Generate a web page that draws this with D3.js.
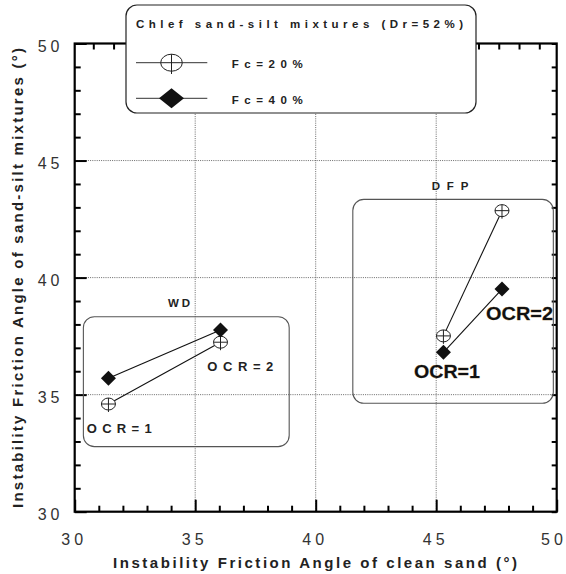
<!DOCTYPE html>
<html>
<head>
<meta charset="utf-8">
<script src="https://cdn.jsdelivr.net/npm/d3@7"></script>
<style>
  body { margin: 0; background: #fff; }
  svg { font-family: "Liberation Sans", Arial, sans-serif; }
</style>
</head>
<body>
<svg id="chart" width="566" height="574"></svg>
<script>
// values
const ocrLabels = ["OCR=1", "OCR=2"];
const cleanSandWD = [31.4, 36.05];
const mixWD20 = [34.6, 37.24];
const mixWD40 = [35.7, 37.76];
const cleanSandDFP = [45.3, 47.73];
const mixDFP20 = [37.51, 42.86];
const mixDFP40 = [36.81, 39.51];
const xTicks = [30, 35, 40, 45, 50];
const yTicks = [30, 35, 40, 45, 50];
const legendTitle = "Chlef sand-silt mixtures (Dr=52%)";
const seriesNames = ["Fc=20%", "Fc=40%"];

const svg = d3.select("#chart");
const plotLeft = 74.7, plotRight = 556.7, plotTop = 43.5, plotBottom = 511.7;

const x = d3.scaleLinear().domain([30, 50]).range([plotLeft, plotRight]);
const y = d3.scaleLinear().domain([30, 50]).range([plotBottom, plotTop]);
// the top frame carries its own, slightly tighter tick spacing
const xTop = d3.scaleLinear().domain([0, 22]).range([93.3, 539.3]);

/* dotted grid */
const grid = svg.append("g").attr("stroke", "#444").attr("stroke-width", 0.8)
  .attr("stroke-dasharray", "1,1.2");
[35, 40, 45].forEach(v => {
  grid.append("line").attr("x1", x(v)).attr("x2", x(v)).attr("y1", plotTop).attr("y2", plotBottom);
  grid.append("line").attr("x1", plotLeft).attr("x2", plotRight).attr("y1", y(v)).attr("y2", y(v));
});

/* axes with inward ticks */
const minor = d3.range(30, 51, 1);
function tickLen(v) { return v % 5 === 0 ? 12 : 6; }

const bottomAxis = svg.append("g").attr("transform", `translate(0,${plotBottom})`)
  .call(d3.axisBottom(x).tickValues(minor).tickSize(0).tickFormat(""));
bottomAxis.selectAll(".tick line").attr("y2", d => -tickLen(d)).attr("stroke-width", 2);

const leftAxis = svg.append("g").attr("transform", `translate(${plotLeft},0)`)
  .call(d3.axisLeft(y).tickValues(minor).tickSize(0).tickFormat(""));
leftAxis.selectAll(".tick line").attr("x2", d => tickLen(d)).attr("stroke-width", 2);

const topAxis = svg.append("g").attr("transform", `translate(0,${plotTop})`)
  .call(d3.axisTop(xTop).tickValues(d3.range(0, 23)).tickSize(0).tickFormat(""));
topAxis.selectAll(".tick line").attr("y2", 6).attr("stroke-width", 2);

const rightAxis = svg.append("g").attr("transform", `translate(${plotRight},0)`)
  .call(d3.axisRight(y).tickValues(minor).tickSize(0).tickFormat(""));
rightAxis.selectAll(".tick line").attr("x2", -5).attr("stroke-width", 2);

svg.selectAll(".domain").remove();
svg.append("rect").attr("x", plotLeft).attr("y", plotTop)
  .attr("width", plotRight - plotLeft).attr("height", plotBottom - plotTop)
  .attr("fill", "none").attr("stroke", "#000").attr("stroke-width", 2.2);

/* tick labels */
svg.selectAll("text.xl").data(xTicks).enter().append("text")
  .attr("x", d => Math.min(x(d) - 0.5, 554)).attr("y", 545).attr("text-anchor", "middle")
  .attr("font-size", 16).attr("letter-spacing", 4).attr("fill", "#333").text(d => d);
svg.selectAll("text.yl").data(yTicks).enter().append("text")
  .attr("x", 63.5).attr("y", d => y(d) + 8).attr("text-anchor", "end")
  .attr("font-size", 16).attr("letter-spacing", 4).attr("fill", "#333").text(d => d);

/* axis titles */
svg.append("text").attr("x", 113).attr("y", 568)
  .attr("textLength", 404).attr("lengthAdjust", "spacing")
  .attr("font-size", 15).attr("font-weight", "bold").attr("fill", "#222")
  .text("Instability Friction Angle of clean sand (°)");
svg.append("text").attr("transform", "translate(22.7,508) rotate(-90)")
  .attr("textLength", 460).attr("lengthAdjust", "spacing")
  .attr("font-size", 15).attr("font-weight", "bold").attr("fill", "#222")
  .text("Instability Friction Angle of sand-silt mixtures (°)");

/* grouping boxes */
function box(x0, x1, y0, y1) {
  svg.append("rect").attr("x", x(x0)).attr("y", y(y1)).attr("width", x(x1) - x(x0)).attr("height", y(y0) - y(y1))
    .attr("rx", 11).attr("fill", "none").attr("stroke", "#555").attr("stroke-width", 1.1);
}
box(30.36, 38.9, 32.78, 38.33);
box(41.54, 49.86, 34.63, 43.34);

/* markers */
function circleMark(g) {
  g.append("ellipse").attr("rx", 7).attr("ry", 6).attr("fill", "#fff").attr("stroke", "#222").attr("stroke-width", 1);
  g.append("line").attr("x1", 0).attr("x2", 0).attr("y1", -6).attr("y2", 8).attr("stroke", "#222");
  g.append("line").attr("x1", -7).attr("x2", 7).attr("y1", 0).attr("y2", 0).attr("stroke", "#222");
}
function diamondMark(g) {
  g.append("path").attr("d", "M0,-7.5L7.5,0L0,7.5L-7.5,0Z").attr("fill", "#111");
}

function series(xs, ys, mark) {
  const pts = xs.map((v, i) => [v, ys[i]]);
  svg.append("path").attr("d", d3.line().x(d => x(d[0])).y(d => y(d[1]))(pts))
    .attr("fill", "none").attr("stroke", "#111").attr("stroke-width", 1.1);
  pts.forEach(p => {
    const g = svg.append("g").attr("transform", `translate(${x(p[0])},${y(p[1])})`);
    mark(g);
  });
}
series(cleanSandWD, mixWD20, circleMark);
series(cleanSandWD, mixWD40, diamondMark);
series(cleanSandDFP, mixDFP20, circleMark);
series(cleanSandDFP, mixDFP40, diamondMark);

/* annotation labels */
function label(tx, ty, t, size, len) {
  svg.append("text").attr("x", tx).attr("y", ty)
    .attr("textLength", len).attr("lengthAdjust", "spacing")
    .attr("font-size", size).attr("font-weight", "bold").attr("fill", "#222").text(t);
}
label(168, 307, "WD", 11.5, 22);
label(431.7, 190, "DFP", 11.5, 36.6);
label(86.7, 432.7, ocrLabels[0], 13, 65);
label(207.3, 370.7, ocrLabels[1], 13, 66);
svg.append("text").attr("x", 414).attr("y", 378.3).attr("textLength", 66).attr("lengthAdjust", "spacingAndGlyphs")
  .attr("font-size", 18.5).attr("font-weight", "bold").attr("fill", "#111")
  .attr("stroke", "#8a6a2a").attr("stroke-width", 0.3).attr("paint-order", "stroke").text(ocrLabels[0]);
svg.append("text").attr("x", 486).attr("y", 320).attr("textLength", 67).attr("lengthAdjust", "spacingAndGlyphs")
  .attr("font-size", 18.5).attr("font-weight", "bold").attr("fill", "#111")
  .attr("stroke", "#8a6a2a").attr("stroke-width", 0.3).attr("paint-order", "stroke").text(ocrLabels[1]);

/* legend */
const legend = svg.append("g");
legend.append("rect").attr("x", 126).attr("y", 5).attr("width", 350).attr("height", 108).attr("rx", 11)
  .attr("fill", "#fff").attr("stroke", "#222").attr("stroke-width", 1.2);
legend.append("text").attr("x", 136).attr("y", 28.3)
  .attr("textLength", 327).attr("lengthAdjust", "spacing")
  .attr("font-size", 11.5).attr("font-weight", "bold").attr("fill", "#222").text(legendTitle);
seriesNames.forEach((name, i) => {
  const ly = 62.7 + i * 35.6;
  legend.append("line").attr("x1", 136).attr("x2", 207.3).attr("y1", ly).attr("y2", ly)
    .attr("stroke", "#333").attr("stroke-width", 1);
  const g = legend.append("g").attr("transform", `translate(171.5,${ly})`);
  if (i === 0) {
    g.append("ellipse").attr("rx", 10.8).attr("ry", 8.5).attr("fill", "#fff").attr("stroke", "#222");
    g.append("line").attr("y1", -8.5).attr("y2", 11.3).attr("stroke", "#222");
    g.append("line").attr("x1", -10.8).attr("x2", 10.8).attr("stroke", "#222");
  } else {
    g.append("path").attr("d", "M0,-10L12.5,0L0,10L-12.5,0Z").attr("fill", "#111");
  }
  legend.append("text").attr("x", 231.7).attr("y", ly + 5.6)
    .attr("textLength", 71).attr("lengthAdjust", "spacing")
    .attr("font-size", 11.5).attr("font-weight", "bold").attr("fill", "#222").text(name);
});
</script>
</body>
</html>
